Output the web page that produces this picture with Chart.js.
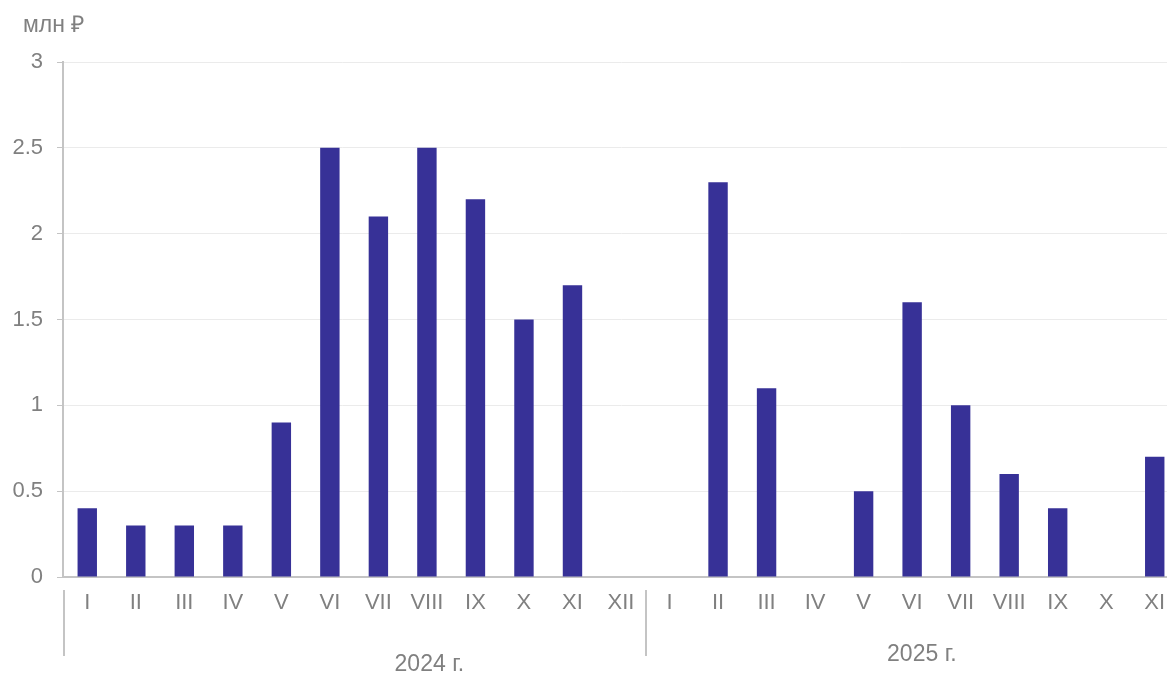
<!DOCTYPE html>
<html>
<head>
<meta charset="utf-8">
<script src="https://cdn.jsdelivr.net/npm/chart.js@4"></script>
<style>
  html, body { margin: 0; padding: 0; background: #fff; overflow: hidden; }
  .wrap { width: 1167px; height: 675px; overflow: hidden; }
</style>
</head>
<body>
<div class="wrap">
  <canvas id="chart" width="1180" height="675"></canvas>
</div>
<script>
const months = ['I', 'II', 'III', 'IV', 'V', 'VI', 'VII', 'VIII', 'IX', 'X', 'XI', 'XII',
                'I', 'II', 'III', 'IV', 'V', 'VI', 'VII', 'VIII', 'IX', 'X', 'XI'];
const values = [0.4, 0.3, 0.3, 0.3, 0.9, 2.5, 2.1, 2.5, 2.2, 1.5, 1.7, 0,
                0, 2.3, 1.1, 0, 0.5, 1.6, 1.0, 0.6, 0.4, 0, 0.7];
const years = ['2024 г.', '2025 г.'];
const unitLabel = 'млн ₽';

const gray = '#808080';
const axisGray = '#c4c4c4';
const fontFamily = '"Liberation Sans", Arial, sans-serif';

// year captions and separators under the month labels
const yearGroups = {
  id: 'yearGroups',
  afterDraw(chart) {
    const { ctx, scales: { x } } = chart;
    ctx.save();
    ctx.strokeStyle = axisGray;
    ctx.lineWidth = 2;
    [-0.5, 11.5].forEach(i => {
      const px = Math.round(x.getPixelForValue(i)) + 1;
      ctx.beginPath();
      ctx.moveTo(px, 590);
      ctx.lineTo(px, 656);
      ctx.stroke();
    });
    ctx.fillStyle = gray;
    ctx.font = '23px ' + fontFamily;
    ctx.textAlign = 'center';
    ctx.textBaseline = 'middle';
    ctx.fillText(years[0], x.getPixelForValue(7.05), 665);
    ctx.fillText(years[1], x.getPixelForValue(17.2), 655);
    ctx.font = '23px ' + fontFamily;
    ctx.textAlign = 'left';
    ctx.fillText(unitLabel, 23, 26);
    ctx.restore();
  }
};

new Chart(document.getElementById('chart'), {
  type: 'bar',
  data: {
    labels: months,
    datasets: [{
      data: values,
      backgroundColor: '#373197',
      categoryPercentage: 1,
      barPercentage: 0.4
    }]
  },
  plugins: [yearGroups],
  options: {
    responsive: false,
    animation: false,
    devicePixelRatio: 1,
    layout: { padding: { top: 62, right: 1, left: 0, bottom: 0 } },
    plugins: {
      legend: { display: false },
      tooltip: { enabled: false }
    },
    scales: {
      x: {
        afterFit(scale) { scale.height = 98; },
        grid: { display: false, drawTicks: false },
        border: { display: true, color: axisGray, width: 2 },
        ticks: {
          color: gray,
          padding: 13,
          maxRotation: 0,
          autoSkip: false,
          font: { family: fontFamily, size: 22 }
        }
      },
      y: {
        min: 0,
        max: 3,
        afterFit(scale) { scale.width = 63; },
        grid: { color: '#ebebeb', tickColor: axisGray, tickLength: 6, lineWidth: 1 },
        border: { display: true, color: axisGray, width: 2 },
        ticks: {
          stepSize: 0.5,
          color: gray,
          padding: 14,
          font: { family: fontFamily, size: 22 },
          callback: v => String(v)
        }
      }
    }
  }
});
</script>
</body>
</html>
